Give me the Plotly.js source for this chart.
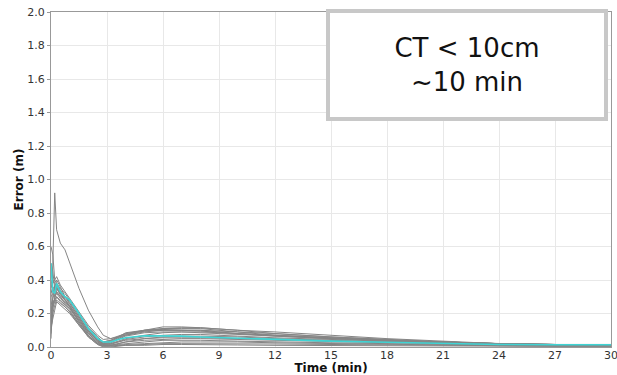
<!DOCTYPE html>
<html><head><meta charset="utf-8">
<script src="https://cdn.plot.ly/plotly-3.0.1.min.js"></script>
<style>html,body{margin:0;padding:0;background:#fff}#c{width:617px;height:375px}</style>
</head><body><div id="c"></div>
<script>
const T = [0, 0.1, 0.2, 0.3, 0.5, 0.75, 1, 1.5, 2, 2.5, 2.8, 3.2, 3.6, 4, 5, 6, 7, 8, 10, 12, 15, 18, 21, 24, 27, 30];
const g1 = [0.1, 0.5, 0.92, 0.7, 0.62, 0.58, 0.5, 0.35, 0.22, 0.12, 0.07, 0.05, 0.06, 0.07, 0.09, 0.1, 0.1, 0.1, 0.08, 0.07, 0.05, 0.04, 0.03, 0.02, 0.015, 0.015];
const g2 = [0.6, 0.55, 0.4, 0.38, 0.35, 0.32, 0.28, 0.2, 0.12, 0.06, 0.03, 0.04, 0.06, 0.08, 0.1, 0.11, 0.11, 0.11, 0.09, 0.07, 0.055, 0.04, 0.03, 0.02, 0.015, 0.015];
const g3 = [0.05, 0.3, 0.35, 0.4, 0.36, 0.3, 0.26, 0.18, 0.1, 0.04, 0.02, 0.03, 0.05, 0.07, 0.1, 0.12, 0.12, 0.115, 0.1, 0.08, 0.06, 0.045, 0.03, 0.02, 0.015, 0.015];
const g4 = [0.2, 0.25, 0.3, 0.33, 0.3, 0.27, 0.24, 0.16, 0.08, 0.03, 0.01, 0.01, 0.02, 0.03, 0.05, 0.06, 0.065, 0.065, 0.06, 0.05, 0.04, 0.03, 0.025, 0.015, 0.01, 0.01];
const g5 = [0.15, 0.28, 0.26, 0.3, 0.28, 0.25, 0.22, 0.14, 0.06, 0.015, 0.005, 0.005, 0.01, 0.015, 0.02, 0.025, 0.03, 0.03, 0.03, 0.025, 0.02, 0.015, 0.01, 0.008, 0.006, 0.006];
const g6 = [0.3, 0.32, 0.36, 0.38, 0.34, 0.3, 0.27, 0.19, 0.11, 0.05, 0.03, 0.04, 0.06, 0.085, 0.1, 0.105, 0.1, 0.095, 0.08, 0.065, 0.05, 0.035, 0.025, 0.018, 0.015, 0.015];
const g7 = [0.1, 0.2, 0.25, 0.28, 0.26, 0.24, 0.21, 0.14, 0.07, 0.02, 0.01, 0.015, 0.03, 0.045, 0.06, 0.07, 0.075, 0.075, 0.065, 0.055, 0.045, 0.035, 0.025, 0.015, 0.01, 0.01];
const g8 = [0.4, 0.35, 0.3, 0.35, 0.32, 0.29, 0.25, 0.17, 0.09, 0.035, 0.015, 0.01, 0.015, 0.02, 0.03, 0.04, 0.04, 0.04, 0.035, 0.03, 0.025, 0.02, 0.015, 0.01, 0.008, 0.008];
const g9 = [0.25, 0.3, 0.33, 0.37, 0.33, 0.29, 0.26, 0.18, 0.1, 0.045, 0.025, 0.035, 0.055, 0.075, 0.095, 0.11, 0.115, 0.115, 0.1, 0.09, 0.07, 0.05, 0.035, 0.02, 0.015, 0.015];
const g10 = [0.35, 0.4, 0.38, 0.35, 0.31, 0.28, 0.24, 0.15, 0.07, 0.02, 0.005, 0.005, 0.008, 0.01, 0.015, 0.02, 0.02, 0.02, 0.02, 0.018, 0.015, 0.012, 0.01, 0.008, 0.006, 0.006];
const g11 = [0.5, 0.45, 0.35, 0.33, 0.3, 0.26, 0.23, 0.15, 0.08, 0.03, 0.015, 0.02, 0.035, 0.05, 0.07, 0.085, 0.09, 0.09, 0.08, 0.07, 0.055, 0.04, 0.03, 0.02, 0.012, 0.012];
const g12 = [0.08, 0.22, 0.3, 0.32, 0.29, 0.26, 0.23, 0.16, 0.09, 0.04, 0.02, 0.02, 0.03, 0.04, 0.05, 0.055, 0.055, 0.055, 0.05, 0.045, 0.04, 0.03, 0.02, 0.015, 0.01, 0.01];
const g13 = [0.45, 0.38, 0.4, 0.42, 0.37, 0.33, 0.29, 0.21, 0.13, 0.07, 0.045, 0.05, 0.065, 0.08, 0.095, 0.1, 0.1, 0.1, 0.09, 0.08, 0.06, 0.045, 0.03, 0.02, 0.015, 0.015];
const g14 = [0.22, 0.26, 0.28, 0.3, 0.27, 0.24, 0.21, 0.13, 0.06, 0.015, 0.0, 0.0, 0.005, 0.01, 0.01, 0.015, 0.015, 0.015, 0.012, 0.01, 0.008, 0.006, 0.005, 0.005, 0.004, 0.004];
const g15 = [0.32, 0.36, 0.34, 0.36, 0.32, 0.28, 0.25, 0.17, 0.09, 0.04, 0.02, 0.025, 0.045, 0.065, 0.085, 0.09, 0.09, 0.085, 0.075, 0.065, 0.05, 0.04, 0.03, 0.02, 0.015, 0.015];
const g16 = [0.12, 0.18, 0.22, 0.27, 0.25, 0.23, 0.2, 0.13, 0.065, 0.025, 0.01, 0.01, 0.02, 0.03, 0.04, 0.045, 0.05, 0.05, 0.045, 0.04, 0.03, 0.025, 0.02, 0.012, 0.01, 0.01];
const mean = [0.5, 0.33, 0.32, 0.38, 0.33, 0.3, 0.28, 0.2, 0.11, 0.05, 0.03, 0.03, 0.045, 0.055, 0.067, 0.068, 0.065, 0.06, 0.052, 0.045, 0.035, 0.028, 0.02, 0.015, 0.013, 0.013];
const grayRuns = [g1, g2, g3, g4, g5, g6, g7, g8, g9, g10, g11, g12, g13, g14, g15, g16];
const xTicks = [0, 3, 6, 9, 12, 15, 18, 21, 24, 27, 30];
const yTicks = [0.0, 0.2, 0.4, 0.6, 0.8, 1.0, 1.2, 1.4, 1.6, 1.8, 2.0];
const noteText = "CT &lt; 10cm<br>~10 min";

const traces = grayRuns.map(y => ({x: T, y: y, type: 'scatter', mode: 'lines',
  line: {color: '#858585', width: 1}, hoverinfo: 'skip'}));
traces.push({x: T, y: mean, type: 'scatter', mode: 'lines', line: {color: '#3fd4d4', width: 1.6}});

const tf = {family: 'DejaVu Sans', size: 11, color: '#333'};
const titleFont = {family: 'DejaVu Sans', size: 12, color: '#111'};
const layout = {
  width: 617, height: 375, showlegend: false,
  margin: {l: 51, r: 6, t: 12, b: 28},
  paper_bgcolor: '#fff', plot_bgcolor: '#fff',
  font: tf,
  xaxis: {range: [0, 30], tickvals: xTicks, ticktext: xTicks.map(String),
    showgrid: true, gridcolor: '#e8e8e8', zeroline: false,
    showline: true, linecolor: '#999', linewidth: 1, mirror: true,
    ticks: '', tickfont: tf, ticklabeloverflow: 'allow', ticklabelstandoff: -2,
    title: {text: '<b>Time (min)</b>', font: titleFont, standoff: 2}},
  yaxis: {range: [0, 2], tickvals: yTicks, ticktext: yTicks.map(v => v.toFixed(1)),
    showgrid: true, gridcolor: '#e8e8e8', zeroline: false,
    showline: true, linecolor: '#999', linewidth: 1, mirror: true,
    ticks: 'outside', ticklen: 3, tickcolor: '#999', tickfont: tf,
    title: {text: '<b>Error (m)</b>', font: titleFont, standoff: 1}},
  annotations: [{xref: 'paper', yref: 'paper', x: 0.743, y: 0.842, xanchor: 'center', yanchor: 'middle',
    text: noteText, showarrow: false, align: 'center',
    font: {family: 'DejaVu Sans', size: 26, color: '#111'},
    bgcolor: '#fff', bordercolor: '#c8c8c8', borderwidth: 4, borderpad: 2,
    width: 270, height: 100}]
};
Plotly.newPlot('c', traces, layout, {staticPlot: true, displayModeBar: false});
</script></body></html>
